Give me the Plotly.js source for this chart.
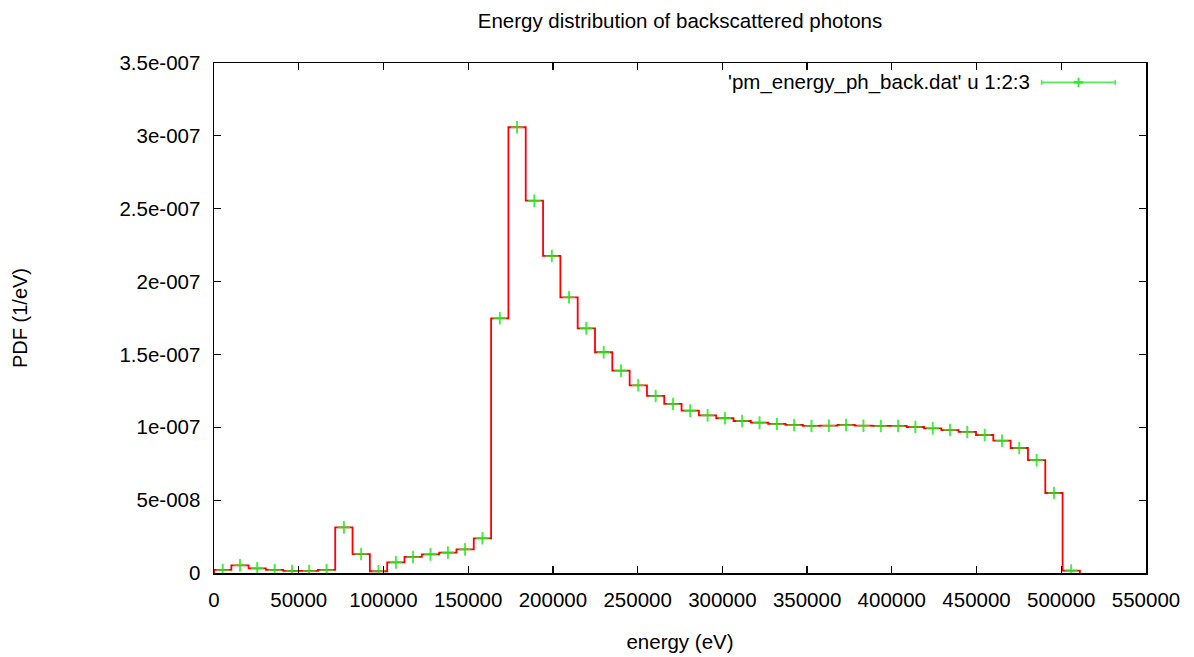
<!DOCTYPE html>
<html>
<head>
<meta charset="utf-8">
<script src="https://cdn.plot.ly/plotly-3.0.1.min.js"></script>
<style>html,body{margin:0;padding:0;background:#fff}#chart{width:1194px;height:657px}</style>
</head>
<body>
<div id="chart"></div>
<script>
// Bin centers (eV)
const energy = [5110, 15330, 25550, 35770, 45990, 56210, 66430, 76650, 86870, 97090,
  107310, 117530, 127750, 137970, 148190, 158410, 168630, 178850, 189070, 199290,
  209510, 219730, 229950, 240170, 250390, 260610, 270830, 281050, 291270, 301490,
  311710, 321930, 332150, 342370, 352590, 362810, 373030, 383250, 393470, 403690,
  413910, 424130, 434350, 444570, 454790, 465010, 475230, 485450, 495670, 505890];
// PDF values (1/eV)
const pdf = [2.1e-9, 5.3e-9, 3.2e-9, 2.1e-9, 1.4e-9, 1.4e-9, 2.1e-9, 3.13e-8, 1.30e-8, 1.2e-9,
  7.3e-9, 1.10e-8, 1.28e-8, 1.40e-8, 1.62e-8, 2.38e-8, 1.748e-7, 3.059e-7, 2.555e-7, 2.176e-7,
  1.892e-7, 1.679e-7, 1.515e-7, 1.389e-7, 1.288e-7, 1.215e-7, 1.160e-7, 1.114e-7, 1.082e-7, 1.062e-7,
  1.043e-7, 1.032e-7, 1.023e-7, 1.016e-7, 1.009e-7, 1.011e-7, 1.016e-7, 1.011e-7, 1.009e-7, 1.009e-7,
  1.002e-7, 9.93e-8, 9.81e-8, 9.68e-8, 9.47e-8, 9.08e-8, 8.58e-8, 7.74e-8, 5.49e-8, 1.6e-9];
// Error (1/eV)
const pdfErr = [4e-9, 4e-9, 4e-9, 4e-9, 4e-9, 4e-9, 4e-9, 4e-9, 4e-9, 4e-9,
  4e-9, 4e-9, 4e-9, 4e-9, 4e-9, 4e-9, 4e-9, 4e-9, 4e-9, 4e-9,
  4e-9, 4e-9, 4e-9, 4e-9, 4e-9, 4e-9, 4e-9, 4e-9, 4e-9, 4e-9,
  4e-9, 4e-9, 4e-9, 4e-9, 4e-9, 4e-9, 4e-9, 4e-9, 4e-9, 4e-9,
  4e-9, 4e-9, 4e-9, 4e-9, 4e-9, 4e-9, 4e-9, 4e-9, 4e-9, 4e-9];

const xTickVals = [0, 50000, 100000, 150000, 200000, 250000, 300000, 350000, 400000, 450000, 500000, 550000];
const xTickText = ['0', '50000', '100000', '150000', '200000', '250000', '300000', '350000', '400000', '450000', '500000', '550000'];
const yTickVals = [0, 5e-8, 1e-7, 1.5e-7, 2e-7, 2.5e-7, 3e-7, 3.5e-7];
const yTickText = ['0', '5e-008', '1e-007', '1.5e-007', '2e-007', '2.5e-007', '3e-007', '3.5e-007'];
const seriesName = "'pm_energy_ph_back.dat' u 1:2:3";

// histeps: edges halfway between centers, ends extended by half a bin
const n = energy.length;
const edges = [];
edges.push(energy[0] - (energy[1] - energy[0]) / 2);
for (let i = 0; i < n - 1; i++) edges.push((energy[i] + energy[i + 1]) / 2);
edges.push(energy[n - 1] + (energy[n - 1] - energy[n - 2]) / 2);
const stepX = [edges[0]].concat(edges).concat([edges[n]]);
const stepY = [0].concat(pdf).concat([pdf[n - 1], 0]);

const FONT = 'Liberation Sans, Arial, Helvetica, sans-serif';
const FS = 20.5;

const traces = [
  {
    x: stepX, y: stepY, type: 'scatter', mode: 'lines',
    line: {shape: 'hv', color: '#ff0000', width: 1.8},
    showlegend: false, hoverinfo: 'skip'
  },
  {
    x: energy, y: pdf, type: 'scatter', mode: 'markers', name: seriesName,
    marker: {symbol: 'cross-thin', size: 9, color: '#22ee22', line: {color: '#22ee22', width: 1.6}},
    error_y: {type: 'data', array: pdfErr, visible: true, color: '#22ee22', thickness: 1.6, width: 0},
    opacity: 0.85, showlegend: false
  }
];

// legend sample geometry (paper coords)
const kx0 = 0.888, kx1 = 0.967, ky = 0.962;
const kxm = (kx0 + kx1) / 2;

const layout = {
  width: 1194, height: 657,
  margin: {l: 214, r: 48, t: 63, b: 84},
  paper_bgcolor: '#ffffff', plot_bgcolor: '#ffffff',
  font: {family: FONT, size: FS, color: '#000'},
  title: {text: 'Energy distribution of backscattered photons', x: 0.5, xref: 'paper',
          y: 1 - 21 / 657, yref: 'container', yanchor: 'middle', xanchor: 'center',
          font: {family: FONT, size: FS, color: '#000'}},
  xaxis: {
    range: [0, 550000], tickvals: xTickVals, ticktext: xTickText,
    ticks: 'inside', ticklen: 7, tickwidth: 1.2, tickcolor: '#000',
    showline: true, linecolor: '#000', linewidth: 1.5, mirror: 'allticks',
    showgrid: false, zeroline: false, ticklabelstandoff: 8,
    title: {text: 'energy (eV)', standoff: 24, font: {family: FONT, size: FS}}
  },
  yaxis: {
    range: [0, 3.5e-7], tickvals: yTickVals, ticktext: yTickText,
    ticks: 'inside', ticklen: 7, tickwidth: 1.2, tickcolor: '#000',
    showline: true, linecolor: '#000', linewidth: 1.5, mirror: 'allticks',
    showgrid: false, zeroline: false, ticklabelstandoff: 8,
    title: {text: 'PDF (1/eV)', standoff: 86, font: {family: FONT, size: 20}}
  },
  showlegend: false,
  annotations: [
    {text: seriesName, xref: 'paper', yref: 'paper', x: 0.878, y: ky, xanchor: 'right', yanchor: 'middle',
     showarrow: false, font: {family: FONT, size: FS, color: '#000'}}
  ],
  shapes: [
    {type: 'line', xref: 'paper', yref: 'paper', x0: kx0, x1: kx1, y0: ky, y1: ky, line: {color: '#55ee55', width: 1.6}},
    {type: 'line', xref: 'paper', yref: 'paper', x0: kx0, x1: kx0, y0: ky - 0.005, y1: ky + 0.005, line: {color: '#55ee55', width: 1.6}},
    {type: 'line', xref: 'paper', yref: 'paper', x0: kx1, x1: kx1, y0: ky - 0.005, y1: ky + 0.005, line: {color: '#55ee55', width: 1.6}},
    {type: 'line', xref: 'paper', yref: 'paper', x0: kxm, x1: kxm, y0: ky - 0.009, y1: ky + 0.009, line: {color: '#22ee22', width: 1.6}},
    {type: 'line', xref: 'paper', yref: 'paper', x0: kxm - 0.005, x1: kxm + 0.005, y0: ky, y1: ky, line: {color: '#22ee22', width: 2.5}}
  ]
};

Plotly.newPlot('chart', traces, layout, {displayModeBar: false, staticPlot: true});
</script>
</body>
</html>
